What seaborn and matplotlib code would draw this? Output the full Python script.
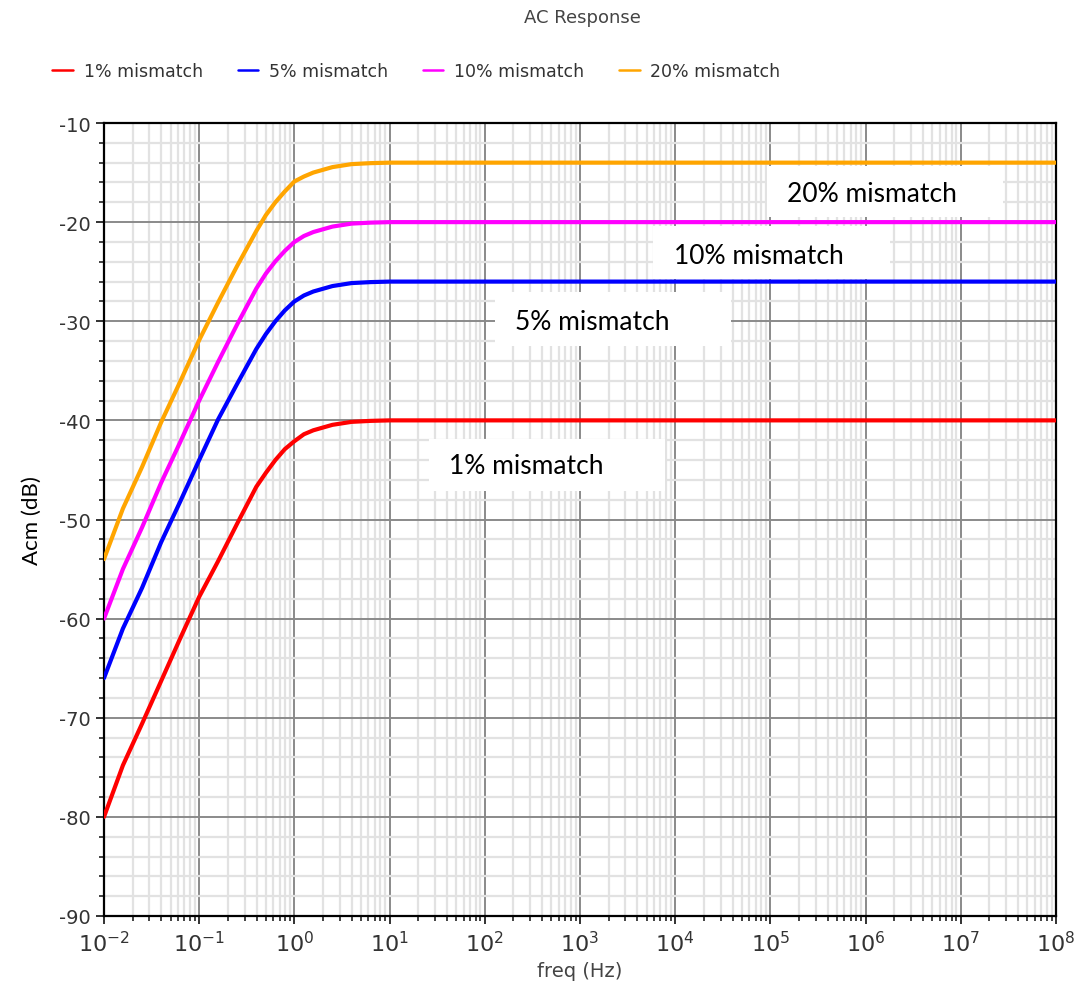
import matplotlib
matplotlib.use("Agg")
import matplotlib.pyplot as plt
import matplotlib.ticker as mticker
from matplotlib.patches import Rectangle
from matplotlib.lines import Line2D
import numpy as np
import pandas as pd
import seaborn as sns

# ---------------- data ----------------
freq = [0.01, 0.0158, 0.0251, 0.0398, 0.0631, 0.1, 0.158, 0.251, 0.398, 0.501, 0.631,
        0.794, 1.0, 1.259, 1.58, 2.51, 3.98, 6.31, 10.0, 1e2, 1e3, 1e4, 1e5, 1e6, 1e7, 1e8]
acm_1 = [-80.0, -74.8, -70.6, -66.3, -62.0, -57.8, -54.2, -50.4, -46.7, -45.3, -44.0,
         -42.9, -42.1, -41.4, -41.0, -40.45, -40.15, -40.05, -40.0,
         -40.0, -40.0, -40.0, -40.0, -40.0, -40.0, -40.0]
acm_5 = [-66.0, -61.0, -56.9, -52.3, -48.2, -44.0, -39.9, -36.3, -32.8, -31.3, -30.0,
         -28.9, -28.0, -27.4, -27.0, -26.45, -26.15, -26.05, -26.0,
         -26.0, -26.0, -26.0, -26.0, -26.0, -26.0, -26.0]
acm_10 = [-60.0, -55.0, -50.8, -46.3, -42.2, -38.0, -34.1, -30.3, -26.7, -25.2, -23.95,
          -22.9, -22.0, -21.4, -21.0, -20.45, -20.15, -20.05, -20.0,
          -20.0, -20.0, -20.0, -20.0, -20.0, -20.0, -20.0]
acm_20 = [-54.0, -48.9, -44.7, -40.2, -36.1, -31.9, -28.1, -24.4, -20.9, -19.3, -18.0,
          -16.9, -15.9, -15.4, -15.0, -14.45, -14.15, -14.05, -14.0,
          -14.0, -14.0, -14.0, -14.0, -14.0, -14.0, -14.0]
series_names = ["1% mismatch", "5% mismatch", "10% mismatch", "20% mismatch"]
series_colors = ["#ff0000", "#0000ff", "#ff00ff", "#ffa500"]
x_tick_exponents = [-2, -1, 0, 1, 2, 3, 4, 5, 6, 7, 8]
y_ticks = [-90, -80, -70, -60, -50, -40, -30, -20, -10]

# ---------------- build long-form table ----------------
frames = []
for name, vals in zip(series_names, [acm_1, acm_5, acm_10, acm_20]):
    frames.append(pd.DataFrame({"freq": freq, "Acm": vals, "series": name}))
df = pd.concat(frames, ignore_index=True)

sns.set_theme(style="white")
narrow = ["Liberation Sans Narrow", "DejaVu Sans"]
plt.rcParams["font.family"] = narrow

fig = plt.figure(figsize=(10.83, 9.87), dpi=100)
ax = fig.add_axes([104 / 1083, 1 - 917 / 987, 952 / 1083, 793 / 987])

sns.lineplot(data=df, x="freq", y="Acm", hue="series", hue_order=series_names,
             palette=series_colors, linewidth=3.0, ax=ax, legend=False, zorder=5,
             estimator=None, sort=False)

ax.set_xscale("log")
ax.set_xlim(1e-2, 1e8)
ax.set_ylim(-90, -10)

ax.xaxis.set_major_locator(mticker.FixedLocator([10.0 ** e for e in x_tick_exponents]))
ax.xaxis.set_minor_locator(mticker.LogLocator(base=10, subs=np.arange(2, 10), numticks=100))
ax.xaxis.set_minor_formatter(mticker.NullFormatter())
ax.set_xticklabels([r"$10^{%d}$" % e for e in x_tick_exponents])
ax.yaxis.set_major_locator(mticker.FixedLocator(y_ticks))
ax.yaxis.set_minor_locator(mticker.MultipleLocator(2))
ax.set_yticklabels([str(v) for v in y_ticks])

ax.grid(which="minor", color="#e2e2e2", linewidth=1.6, zorder=0)
ax.grid(which="major", color="#8a8a8a", linewidth=1.4, zorder=1)
ax.set_axisbelow(True)

for s in ax.spines.values():
    s.set_color("black")
    s.set_linewidth(1.6)
    s.set_visible(True)

ax.tick_params(axis="both", which="major", direction="out", length=6, width=1.3,
               color="#222222", labelcolor="#333333", labelsize=14, left=True, bottom=True)
ax.tick_params(axis="both", which="minor", direction="out", length=3.5, width=1.2,
               color="#222222", left=True, bottom=True)
ax.tick_params(axis="x", which="major", labelsize=16, pad=4)

ax.set_xlabel("freq (Hz)", fontsize=14, color="#444444", labelpad=4)
ax.set_ylabel("Acm (dB)", fontsize=16, color="black", family=["Lato", "DejaVu Sans"], labelpad=12)

fig.text(582 / 1083, 1 - 18 / 987, "AC Response", ha="center", va="center",
         fontsize=13, color="#444444")

# legend
handles = [Line2D([0], [0], color=c, linewidth=1.8) for c in series_colors]
fig.legend(handles, series_names, loc="center left", bbox_to_anchor=(0.034, 1 - 72 / 987),
           ncol=4, frameon=False, fontsize=12.5, handlelength=1.2, handletextpad=0.6,
           columnspacing=2.0, labelcolor="#333333")

# annotation boxes (axes fraction)
boxes = [
    ((767, 167, 1003, 218), (787, 195), "20% mismatch"),
    ((653, 227, 890, 280), (674, 257), "10% mismatch"),
    ((495, 293, 731, 347), (515, 322), "5% mismatch"),
    ((429, 440, 665, 492), (449, 467), "1% mismatch"),
]
for (x0, y0, x1, y1), (tx, ty), label in boxes:
    fx0 = (x0 - 104) / 952
    fx1 = (x1 - 104) / 952
    fy0 = (917 - y1) / 793
    fy1 = (917 - y0) / 793
    ax.add_patch(Rectangle((fx0, fy0), fx1 - fx0, fy1 - fy0, transform=ax.transAxes,
                           facecolor="white", edgecolor="none", zorder=3))
    ax.text((tx - 104) / 952, (917 - ty) / 793, label, transform=ax.transAxes,
            ha="left", va="center", fontsize=19, color="black",
            family=["Lato", "DejaVu Sans"], zorder=4)

fig.savefig("out.png", dpi=100)
